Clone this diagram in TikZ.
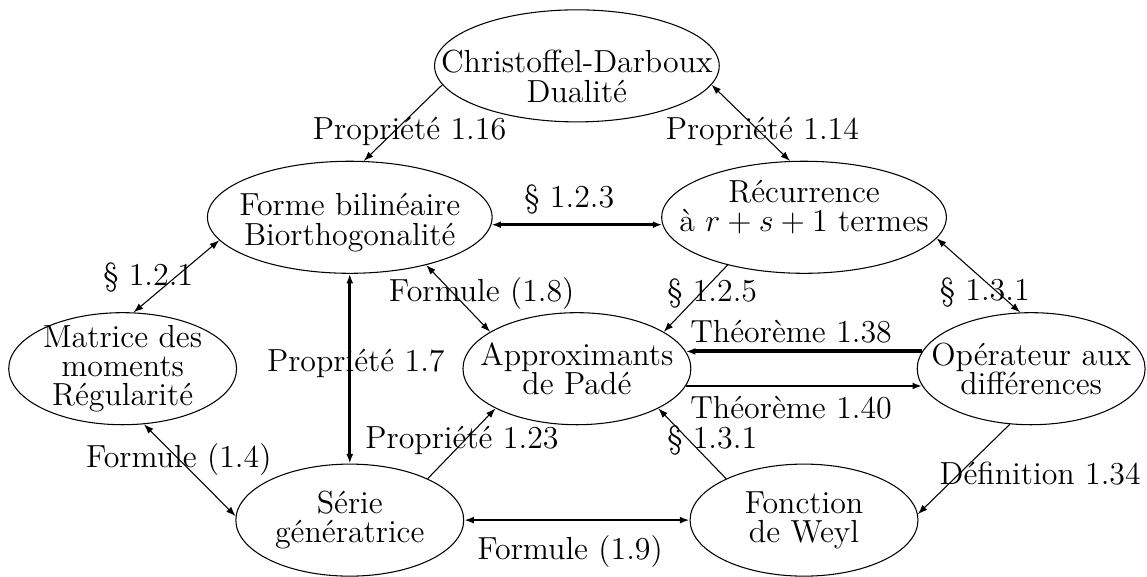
\documentclass[tikz,border=0pt]{standalone}
\usepackage{tikz}
\usetikzlibrary{positioning, arrows.meta, shapes.geometric}

\begin{document}
\begin{tikzpicture}[
  font=\fontsize{12}{11}\selectfont,
  >={Latex[length=3.6pt, width=2.6pt]},
  topic/.style={draw, ellipse, align=center, inner xsep=-18pt, inner ysep=-4pt, minimum width=30.1mm, minimum height=14.8mm},
  widetopic/.style={topic, minimum width=37.6mm},
  link/.style={line width=0.4pt},
  strong/.style={line width=1pt},
  node distance=2cm and 3cm, on grid
]
\useasboundingbox (-7.62,-2.75) rectangle (7.53,4.87);
\node[topic] (pade) {Approximants\\de Padé};
\node[widetopic, above=4cm of pade] (cd) {\rule{0pt}{16.3pt}Christoffel-Darboux\\Dualité};
\node[widetopic, above left=of pade] (forme) {\rule{0pt}{12.3pt}Forme bilinéaire\\Biorthogonalité};
\node[widetopic, above right=of pade] (rec) {Récurrence\\à $r+s+1$ termes\rule[-8.4pt]{0pt}{8.4pt}};
\node[topic, left=6cm of pade] (moments) {Matrice des\\moments\\Régularité};
\node[topic, right=6cm of pade] (oper) {Opérateur aux\\différences};
\node[topic, below left=of pade] (serie) {Série\\génératrice};
\node[topic, below right=of pade] (weyl) {Fonction\\de Weyl};
% top row
\draw[link, ->] (cd.188) -- node[pos=0.61, xshift=2mm] {Propriété 1.16} (forme.76);
\draw[link, <->] (cd.-8) -- node[pos=0.61, xshift=0.4mm] {Propriété 1.14} (rec.104);
\draw[strong, <->] (forme.-3) -- node[above, xshift=-1mm] {\S~1.2.3} (rec.183);
% middle
\draw[link, <->] (forme.190) -- node[pos=0.52, xshift=-3.5mm] {\S~1.2.1} (moments.79);
\draw[strong, <->] (forme.south) -- node[pos=0.47, xshift=0.8mm] {Propriété 1.7} (serie.north);
\draw[link, <->] (forme.-32) -- node[pos=0.43, xshift=3.7mm] {Formule (1.8)} (pade.157);
\draw[link, ->] (rec.212) -- node[pos=0.43, xshift=1.6mm] {\S~1.2.5} (pade.23);
\draw[link, <->] (rec.-9) -- node[pos=0.73, xshift=-1.7mm] {\S~1.3.1} (oper.101);
\draw[line width=1.5pt, ->] (oper.171) -- node[above, yshift=-1pt, xshift=-1.7mm] {Théorème 1.38} (pade.9);
\draw[strong, ->] (pade.-9) -- node[below, xshift=-1.7mm] {Théorème 1.40} (oper.189);
% bottom row
\draw[link, ->] (serie.28) -- node[pos=0.54, xshift=-0.3mm] {Propriété 1.23} (pade.206);
\draw[link, ->] (weyl.152) -- node[pos=0.54, xshift=3mm] {\S~1.3.1} (pade.-26);
\draw[link, ->] (oper.249) -- node[pos=0.55, xshift=10.7mm] {Définition 1.34} (weyl.3);
\draw[link, <->] (moments.-69) -- node[pos=0.38] {Formule (1.4)} (serie.178);
\draw[strong, <->] (serie.east) -- node[below, yshift=-2pt, xshift=-0.9mm] {Formule (1.9)} (weyl.west);
\end{tikzpicture}
\end{document}
